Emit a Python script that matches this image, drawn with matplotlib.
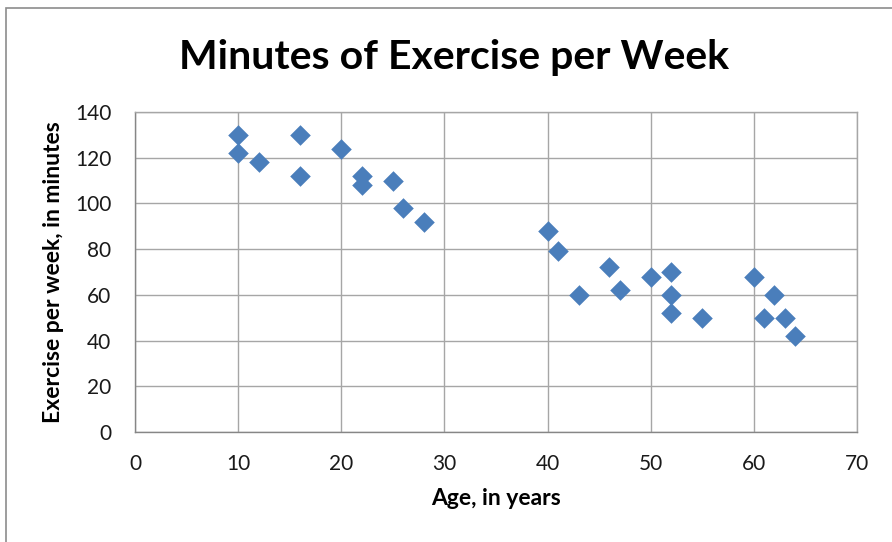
import matplotlib.pyplot as plt
from matplotlib.patches import Rectangle

# ages (years) and minutes of exercise per week
age = [10, 10, 12, 16, 16, 20, 22, 22, 25, 26, 28,
       40, 41, 43, 46, 47, 50, 52, 52, 52, 55, 60, 61, 62, 63, 64]
minutes = [130, 122, 118, 130, 112, 124, 112, 108, 110, 98, 92,
           88, 79, 60, 72, 62, 68, 70, 60, 52, 50, 68, 50, 60, 50, 42]

x_ticks = [0, 10, 20, 30, 40, 50, 60, 70]
y_ticks = [0, 20, 40, 60, 80, 100, 120, 140]

plt.rcParams['font.family'] = ['Lato', 'DejaVu Sans']

fig = plt.figure(figsize=(8.92, 5.42), dpi=100)
ax = fig.add_axes([135 / 892, 1 - 432 / 542, 722 / 892, 320 / 542])

# outer chart border
fig.patches.append(Rectangle((6 / 892, -0.05), 1.0, 1 - 8 / 542 + 0.05,
                             transform=fig.transFigure, fill=False,
                             edgecolor='#8c8c8c', linewidth=1.2))

ax.scatter(age, minutes, marker='D', s=110, color='#4a7ebb', zorder=3,
           linewidths=0)

ax.set_xlim(0, 70)
ax.set_ylim(0, 140)
ax.set_xticks(x_ticks)
ax.set_yticks(y_ticks)
ax.grid(True, color='#a6a6a6', linewidth=1)
ax.set_axisbelow(True)
for s in ax.spines.values():
    s.set_color('#a6a6a6')
    s.set_linewidth(1)
ax.spines['left'].set_color('#868686')
ax.spines['bottom'].set_color('#868686')
ax.tick_params(length=0, labelsize=15, labelcolor='#1a1a1a')
ax.tick_params(axis='x', pad=16)
ax.tick_params(axis='y', pad=17)

fig.text(454 / 892, 1 - 57 / 542, 'Minutes of Exercise per Week',
         ha='center', va='center', fontsize=29.5, fontweight='bold')
ax.set_xlabel('Age, in years', fontsize=16.5, fontweight='bold', labelpad=10)
ax.set_ylabel('Exercise per week, in minutes', fontsize=16.5, fontweight='bold',
              labelpad=8)

fig.savefig('out.png', dpi=100)
